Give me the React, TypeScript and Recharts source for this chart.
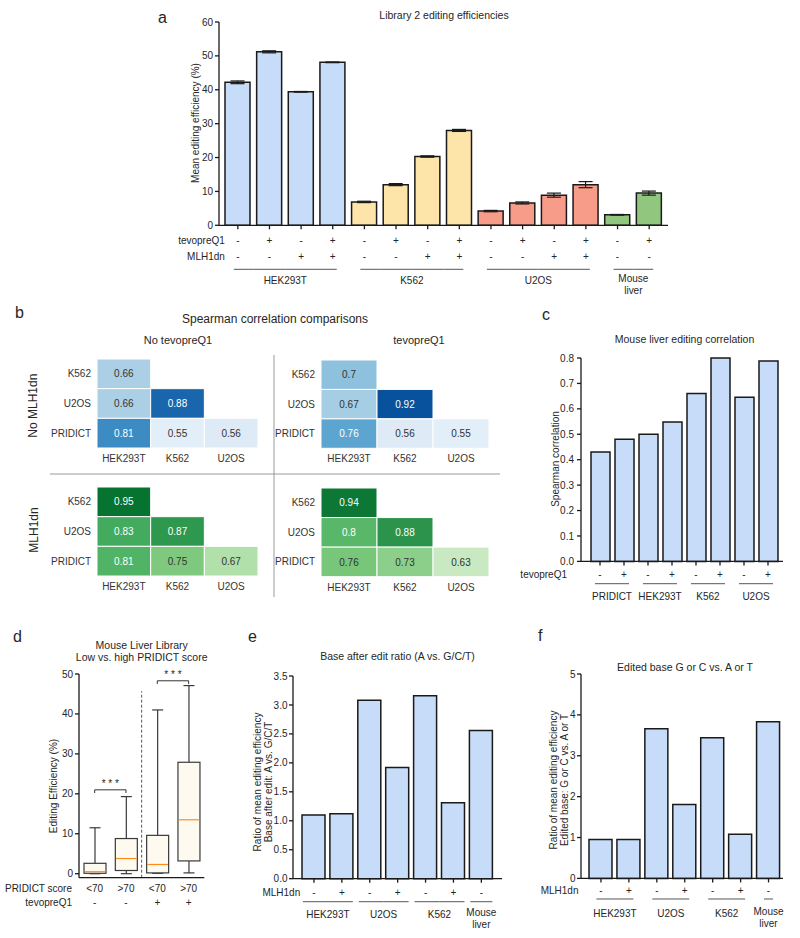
import React from 'react';
import { BarChart, Bar, XAxis, YAxis, ErrorBar, Cell, ScatterChart, Scatter, ReferenceLine } from 'recharts';

const FONT = '"Liberation Sans", Arial, Helvetica, sans-serif';
const INK = '#1a1a1a';
const TXT = '#262626';
const BAR_BLUE = '#c6dcf8';

// a: Library 2 editing efficiencies
const libCells = ['HEK293T', 'HEK293T', 'HEK293T', 'HEK293T', 'K562', 'K562', 'K562', 'K562', 'U2OS', 'U2OS', 'U2OS', 'U2OS', 'Mouse liver', 'Mouse liver'];
const libTevo = ['-', '+', '-', '+', '-', '+', '-', '+', '-', '+', '-', '+', '-', '+'];
const libMlh = ['-', '-', '+', '+', '-', '-', '+', '+', '-', '-', '+', '+', '-', '-'];
const libMean = [42.2, 51.2, 39.4, 48.1, 6.9, 12.0, 20.3, 28.0, 4.2, 6.6, 8.9, 12.0, 3.1, 9.5];
const libSd = [0.4, 0.3, 0.1, 0.1, 0.2, 0.3, 0.2, 0.3, 0.2, 0.3, 0.6, 0.9, 0.1, 0.6];
const libTicks = [0, 10, 20, 30, 40, 50, 60];
const cellColor: Record<string, string> = { HEK293T: '#c6dcf8', K562: '#fde5aa', U2OS: '#f89c8a', 'Mouse liver': '#90c67e' };

// b: Spearman correlation heatmaps (lower triangle)
const hmRows = ['K562', 'U2OS', 'PRIDICT'];
const hmCols = ['HEK293T', 'K562', 'U2OS'];
const hmRowIdx = [0, 1, 1, 2, 2, 2];
const hmColIdx = [0, 0, 1, 0, 1, 2];
const rhoNoTevoNoMlh = [0.66, 0.66, 0.88, 0.81, 0.55, 0.56];
const rhoTevoNoMlh = [0.7, 0.67, 0.92, 0.76, 0.56, 0.55];
const rhoNoTevoMlh = [0.95, 0.83, 0.87, 0.81, 0.75, 0.67];
const rhoTevoMlh = [0.94, 0.8, 0.88, 0.76, 0.73, 0.63];
const blues = ['#f7fbff', '#deebf7', '#c6dbef', '#9ecae1', '#6baed6', '#4292c6', '#2171b5', '#08519c', '#08306b'];
const greens = ['#f7fcf5', '#e5f5e0', '#c7e9c0', '#a1d99b', '#74c476', '#41ab5d', '#238b45', '#006d2c', '#00441b'];

// c: Mouse liver editing correlation
const mlGroup = ['PRIDICT', 'PRIDICT', 'HEK293T', 'HEK293T', 'K562', 'K562', 'U2OS', 'U2OS'];
const mlTevo = ['-', '+', '-', '+', '-', '+', '-', '+'];
const mlCorr = [0.43, 0.48, 0.5, 0.548, 0.66, 0.8, 0.646, 0.788];
const mlTicks = [0, 0.1, 0.2, 0.3, 0.4, 0.5, 0.6, 0.7, 0.8];

// d: box plot, low vs high PRIDICT score
const boxScore = ['<70', '>70', '<70', '>70'];
const boxTevo = ['-', '-', '+', '+'];
const boxMin = [0, 0, 0.1, 0.2];
const boxQ1 = [0.1, 0.8, 0.2, 3.2];
const boxMedian = [0.5, 3.8, 2.3, 13.5];
const boxQ3 = [2.6, 8.8, 9.6, 27.9];
const boxMax = [11.5, 19.3, 41.0, 47.1];
const boxTicks = [0, 10, 20, 30, 40, 50];

// e / f: ratio bars
const ratioGroup = ['HEK293T', 'HEK293T', 'U2OS', 'U2OS', 'K562', 'K562', 'Mouse liver'];
const ratioMlh = ['-', '+', '-', '+', '-', '+', '-'];
const baseAfterRatio = [1.1, 1.12, 3.08, 1.92, 3.16, 1.31, 2.56];
const editedBaseRatio = [0.95, 0.95, 3.66, 1.81, 3.44, 1.08, 3.83];
const eTicks = [0, 0.5, 1, 1.5, 2, 2.5, 3, 3.5];
const fTicks = [0, 1, 2, 3, 4, 5];

const lerpHex = (a: string, b: string, t: number) => {
  const pa = [1, 3, 5].map((k) => parseInt(a.slice(k, k + 2), 16));
  const pb = [1, 3, 5].map((k) => parseInt(b.slice(k, k + 2), 16));
  return 'rgb(' + pa.map((v, k) => Math.round(v + (pb[k] - v) * t)).join(',') + ')';
};
const cmap = (stops: string[], t: number) => {
  const s = Math.max(0, Math.min(1, t)) * (stops.length - 1);
  const k = Math.min(stops.length - 2, Math.floor(s));
  return lerpHex(stops[k], stops[k + 1], s - k);
};

const splitLabel = (s: string) => (s === 'Mouse liver' ? ['Mouse', 'liver'] : [s]);

type TickCfg = {
  rows: { label: string; values: string[]; dy: number }[];
  rowLabelDx: number;
  groups?: string[];
  band?: number;
  ext?: number;
  lineDy?: number;
  labelDy?: number;
};

const groupTick = (cfg: TickCfg) => (props: any) => {
  const { x, y, payload } = props;
  const i = Number(payload.value);
  const out: React.ReactNode[] = [];
  cfg.rows.forEach((r, k) => {
    out.push(
      <text key={'v' + k} x={x} y={y + r.dy} textAnchor="middle" fontSize={10} fill={TXT}>
        {r.values[i]}
      </text>
    );
    if (i === 0) {
      out.push(
        <text key={'l' + k} x={x + cfg.rowLabelDx} y={y + r.dy} textAnchor="end" fontSize={10} fill={TXT}>
          {r.label}
        </text>
      );
    }
  });
  const g = cfg.groups;
  if (g) {
    const band = cfg.band || 0;
    const ext = cfg.ext || 0;
    const first = i === 0 || g[i - 1] !== g[i];
    const last = i === g.length - 1 || g[i + 1] !== g[i];
    const x1 = first ? x - ext : x - band / 2;
    const x2 = last ? x + ext : x + band / 2;
    out.push(<line key="gl" x1={x1} x2={x2} y1={y + (cfg.lineDy || 0)} y2={y + (cfg.lineDy || 0)} stroke="#555" strokeWidth={1} />);
    if (first) {
      let n = 0;
      while (i + n < g.length && g[i + n] === g[i]) n++;
      const cx = x + ((n - 1) * band) / 2;
      const lines = splitLabel(g[i]);
      lines.forEach((t, k) => {
        const dy = lines.length > 1 ? (cfg.labelDy || 0) - 1.5 + k * 12 : cfg.labelDy || 0;
        out.push(
          <text key={'g' + k} x={cx} y={y + dy} textAnchor="middle" fontSize={10} fill={TXT}>
            {t}
          </text>
        );
      });
    }
  }
  return <g fontFamily={FONT}>{out}</g>;
};

const yTick = { fontSize: 10, fill: TXT, fontFamily: FONT };
const axisStroke = { stroke: INK, strokeWidth: 1.3 };

function frame(x0: number, x1: number, y0: number, y1: number, yW: number, xH: number, right = 8) {
  const pad = 8;
  return {
    style: { position: 'absolute' as const, left: x0 - yW, top: y0 - pad },
    width: yW + (x1 - x0) + right,
    height: pad + (y1 - y0) + xH,
    margin: { top: pad, right, bottom: 0, left: 0 },
  };
}

function PanelA() {
  const yW = 50;
  const f = frame(219, 668, 21.7, 225, yW, 76);
  const data = libMean.map((v, i) => ({ idx: i, mean: v, sd: libSd[i], cell: libCells[i] }));
  const band = (449 - 6) / 14;
  const tick = groupTick({
    rows: [
      { label: 'tevopreQ1', values: libTevo, dy: 12.3 },
      { label: 'MLH1dn', values: libMlh, dy: 29 },
    ],
    rowLabelDx: -13,
    groups: libCells,
    band,
    ext: 4,
    lineDy: 38,
    labelDy: 52.3,
  });
  return (
    <div style={f.style}>
      <BarChart width={f.width} height={f.height} data={data} margin={f.margin}>
        <XAxis dataKey="idx" type="category" height={76} padding={{ left: 3, right: 3 }} interval={0} tickSize={4} tickMargin={2} axisLine={axisStroke} tickLine={axisStroke} tick={tick} />
        <YAxis width={yW} domain={[0, 60]} ticks={libTicks} tickSize={4} tickMargin={2} axisLine={axisStroke} tickLine={axisStroke} tick={yTick} />
        <Bar dataKey="mean" barSize={25} stroke={INK} strokeWidth={1.5} isAnimationActive={false}>
          {data.map((d) => (
            <Cell key={d.idx} fill={cellColor[d.cell]} />
          ))}
          <ErrorBar dataKey="sd" width={7} stroke={INK} strokeWidth={1.2} />
        </Bar>
      </BarChart>
    </div>
  );
}

const HeatCell = (p: any) => {
  const { cx, cy, payload, cw, ch, stops, whiteAt, span } = p;
  const v = payload.v;
  const t = (v - 0.5) / span;
  return (
    <g>
      <rect x={cx - cw / 2} y={cy - ch / 2} width={cw} height={ch} fill={cmap(stops, t)} stroke="#ffffff" strokeWidth={1} />
      <text x={cx} y={cy + 3.6} textAnchor="middle" fontSize={10} fontFamily={FONT} fill={v >= whiteAt ? '#ffffff' : '#333333'}>
        {String(v)}
      </text>
    </g>
  );
};

function Heatmap({ x0, y0, w, h, values, stops, whiteAt, span }: { x0: number; y0: number; w: number; h: number; values: number[]; stops: string[]; whiteAt: number; span: number }) {
  const yW = 60;
  const pad = 2;
  const xH = 24;
  const data = values.map((v, k) => ({ c: hmColIdx[k], r: hmRowIdx[k], v }));
  const cw = w / 3;
  const ch = h / 3;
  const lab = { fontSize: 10, fill: '#333', fontFamily: FONT };
  return (
    <div style={{ position: 'absolute', left: x0 - yW, top: y0 - pad }}>
      <ScatterChart width={yW + w + pad} height={pad + h + xH} margin={{ top: pad, right: pad, bottom: 0, left: 0 }}>
        <XAxis type="number" dataKey="c" domain={[-0.5, 2.5]} ticks={[0, 1, 2]} interval={0} tickFormatter={(v: number) => hmCols[v]} axisLine={false} tickLine={false} tickSize={0} tickMargin={7} height={xH} tick={lab} />
        <YAxis type="number" dataKey="r" domain={[-0.5, 2.5]} ticks={[0, 1, 2]} interval={0} reversed tickFormatter={(v: number) => hmRows[v]} axisLine={false} tickLine={false} tickSize={0} tickMargin={6} width={yW} tick={lab} />
        <Scatter data={data} isAnimationActive={false} shape={(p: any) => <HeatCell {...p} cw={cw} ch={ch} stops={stops} whiteAt={whiteAt} span={span} />} />
      </ScatterChart>
    </div>
  );
}

function PanelC() {
  const yW = 72;
  const f = frame(580.7, 782.7, 358.3, 561.7, yW, 46);
  const data = mlCorr.map((v, i) => ({ idx: i, rho: v }));
  const tick = groupTick({
    rows: [{ label: 'tevopreQ1', values: mlTevo, dy: 10.6 }],
    rowLabelDx: -33,
    groups: mlGroup,
    band: 24,
    ext: 5,
    lineDy: 16.3,
    labelDy: 32.3,
  });
  return (
    <div style={f.style}>
      <BarChart width={f.width} height={f.height} data={data} margin={f.margin}>
        <XAxis dataKey="idx" type="category" height={46} padding={{ left: 7, right: 3 }} interval={0} tickSize={4} tickMargin={2} axisLine={axisStroke} tickLine={axisStroke} tick={tick} />
        <YAxis width={yW} domain={[0, 0.8]} ticks={mlTicks} tickFormatter={(v: number) => v.toFixed(1)} tickSize={4} tickMargin={3} axisLine={axisStroke} tickLine={axisStroke} tick={yTick} />
        <Bar dataKey="rho" barSize={19} fill={BAR_BLUE} stroke={INK} strokeWidth={1.5} isAnimationActive={false} />
      </BarChart>
    </div>
  );
}

const BoxShape = (p: any) => {
  const { x, y, width, height, payload } = p;
  const { min, q1, median, q3, max } = payload;
  const py = (v: number) => y + (height * (max - v)) / (max - min);
  const cx = x + width / 2;
  const cap = width / 4;
  return (
    <g>
      <line x1={cx} x2={cx} y1={py(max)} y2={py(q3)} stroke="#3a3a3a" strokeWidth={1.2} />
      <line x1={cx} x2={cx} y1={py(q1)} y2={py(min)} stroke="#3a3a3a" strokeWidth={1.2} />
      <line x1={cx - cap} x2={cx + cap} y1={py(max)} y2={py(max)} stroke="#3a3a3a" strokeWidth={1.2} />
      <line x1={cx - cap} x2={cx + cap} y1={py(min)} y2={py(min)} stroke="#3a3a3a" strokeWidth={1.2} />
      <rect x={x} y={py(q3)} width={width} height={py(q1) - py(q3)} fill="#fffaf0" stroke="#3a3a3a" strokeWidth={1.2} />
      <line x1={x + 0.6} x2={x + width - 0.6} y1={py(median)} y2={py(median)} stroke="#ff8c1a" strokeWidth={1.2} />
    </g>
  );
};

function PanelD() {
  const yW = 76;
  const f = frame(78.7, 204, 674.3, 878, yW, 40, 6);
  const data = boxMin.map((_, i) => ({ idx: i, min: boxMin[i], q1: boxQ1[i], median: boxMedian[i], q3: boxQ3[i], max: boxMax[i] }));
  const tick = groupTick({
    rows: [
      { label: 'PRIDICT score', values: boxScore, dy: 8.3 },
      { label: 'tevopreQ1', values: boxTevo, dy: 22.3 },
    ],
    rowLabelDx: -22.7,
  });
  const br = { stroke: '#333', strokeWidth: 1 };
  const star = { value: '* * *', position: 'top' as const, fill: TXT, fontSize: 10, offset: 3 };
  return (
    <div style={f.style}>
      <BarChart width={f.width} height={f.height} data={data} margin={f.margin}>
        <XAxis dataKey="idx" type="number" domain={[-0.5, 3.5]} ticks={[0, 1, 2, 3]} interval={0} height={40} tickSize={4} tickMargin={2} axisLine={axisStroke} tickLine={false} tick={tick} />
        <YAxis width={yW} domain={[-1, 50]} ticks={boxTicks} tickSize={4} tickMargin={2} axisLine={axisStroke} tickLine={axisStroke} tick={yTick} />
        <Bar dataKey={(d: any) => [d.min, d.max]} barSize={22} isAnimationActive={false} shape={BoxShape} />
        <ReferenceLine segment={[{ x: 1.5, y: -1 }, { x: 1.5, y: 45.7 }]} stroke="#555" strokeWidth={1} strokeDasharray="3 2" />
        <ReferenceLine segment={[{ x: 0, y: 21 }, { x: 1, y: 21 }]} {...br} label={star} />
        <ReferenceLine segment={[{ x: 0, y: 21 }, { x: 0, y: 20.2 }]} {...br} />
        <ReferenceLine segment={[{ x: 1, y: 21 }, { x: 1, y: 20.2 }]} {...br} />
        <ReferenceLine segment={[{ x: 2, y: 48.3 }, { x: 3, y: 48.3 }]} {...br} label={star} />
        <ReferenceLine segment={[{ x: 2, y: 48.3 }, { x: 2, y: 47.5 }]} {...br} />
        <ReferenceLine segment={[{ x: 3, y: 48.3 }, { x: 3, y: 47.5 }]} {...br} />
      </BarChart>
    </div>
  );
}

function RatioPanel({ x0, x1, y0, y1, values, ticks, domainMax, padL, padR, dec, mlhDy, lineDy, labelDy, ext, rowLabelDx }: any) {
  const yW = 45;
  const f = frame(x0, x1, y0, y1, yW, 60);
  const data = values.map((v: number, i: number) => ({ idx: i, ratio: v }));
  const band = (x1 - x0 - padL - padR) / values.length;
  const tick = groupTick({
    rows: [{ label: 'MLH1dn', values: ratioMlh, dy: mlhDy }],
    rowLabelDx,
    groups: ratioGroup,
    band,
    ext,
    lineDy,
    labelDy,
  });
  return (
    <div style={f.style}>
      <BarChart width={f.width} height={f.height} data={data} margin={f.margin}>
        <XAxis dataKey="idx" type="category" height={60} padding={{ left: padL, right: padR }} interval={0} tickSize={4} tickMargin={2} axisLine={axisStroke} tickLine={axisStroke} tick={tick} />
        <YAxis width={yW} domain={[0, domainMax]} ticks={ticks} tickFormatter={(v: number) => v.toFixed(dec)} tickSize={4} tickMargin={1.5} axisLine={axisStroke} tickLine={axisStroke} tick={yTick} />
        <Bar dataKey="ratio" barSize={23} fill={BAR_BLUE} stroke={INK} strokeWidth={1.5} isAnimationActive={false} />
      </BarChart>
    </div>
  );
}

function Overlay() {
  const t = (x: number, y: number, s: string, size = 10.5, anchor: 'start' | 'middle' | 'end' = 'middle') => (
    <text x={x} y={y} fontSize={size} textAnchor={anchor} fill={TXT}>
      {s}
    </text>
  );
  const rot = (x: number, y: number, s: string, size = 10) => (
    <text x={x} y={y} fontSize={size} textAnchor="middle" dominantBaseline="central" transform={`rotate(-90 ${x} ${y})`} fill={TXT}>
      {s}
    </text>
  );
  return (
    <svg width={800} height={938} style={{ position: 'absolute', left: 0, top: 0, pointerEvents: 'none' }} fontFamily={FONT}>
      {t(158, 23, 'a', 16, 'start')}
      {t(444, 18.7, 'Library 2 editing efficiencies')}
      {rot(195, 123, 'Mean editing efficiency (%)')}

      {t(15, 318, 'b', 16, 'start')}
      {t(275, 322.5, 'Spearman correlation comparisons', 12)}
      {t(178, 344, 'No tevopreQ1', 11)}
      {t(419, 344, 'tevopreQ1', 11)}
      {rot(33.5, 405.7, 'No MLH1dn', 12)}
      {rot(33.5, 530, 'MLH1dn', 12)}
      <line x1={274} x2={274} y1={355} y2={597} stroke="#9a9a9a" strokeWidth={1} />
      <line x1={50} x2={500} y1={474} y2={474} stroke="#9a9a9a" strokeWidth={1} />

      {t(542, 320, 'c', 16, 'start')}
      {t(684.5, 343.3, 'Mouse liver editing correlation')}
      {rot(555, 459, 'Spearman correlation')}

      {t(13, 642, 'd', 16, 'start')}
      {t(141.7, 649, 'Mouse Liver Library')}
      {t(141.7, 660.5, 'Low vs. high PRIDICT score')}
      {rot(53.7, 786, 'Editing Efficiency (%)')}

      {t(248, 642, 'e', 16, 'start')}
      {t(397.5, 660, 'Base after edit ratio (A vs. G/C/T)')}
      {rot(257.5, 782, 'Ratio of mean editing efficiency')}
      {rot(268, 782, 'Base after edit: A vs. G/C/T')}

      {t(538, 641, 'f', 16, 'start')}
      {t(685, 671.3, 'Edited base G or C vs. A or T')}
      {rot(553, 780, 'Ratio of mean editing efficiency')}
      {rot(564, 780, 'Edited base: G or C vs. A or T')}
    </svg>
  );
}

export default function App() {
  return (
    <div style={{ position: 'absolute', left: 0, top: 0, width: 800, height: 938, background: '#ffffff', fontFamily: FONT, overflow: 'hidden' }}>
      <PanelA />
      <Heatmap x0={96.7} y0={359.3} w={161} h={89} values={rhoNoTevoNoMlh} stops={blues} whiteAt={0.75} span={0.48} />
      <Heatmap x0={321} y0={360} w={168} h={88.3} values={rhoTevoNoMlh} stops={blues} whiteAt={0.75} span={0.48} />
      <Heatmap x0={96.7} y0={486.7} w={161} h={89} values={rhoNoTevoMlh} stops={greens} whiteAt={0.78} span={0.53} />
      <Heatmap x0={321} y0={488} w={168} h={88.7} values={rhoTevoMlh} stops={greens} whiteAt={0.78} span={0.53} />
      <PanelC />
      <PanelD />
      <RatioPanel x0={292.7} x1={501.7} y0={676} y1={878.7} values={baseAfterRatio} ticks={eTicks} domainMax={3.5} padL={7} padR={6.7} dec={1} mlhDy={11.6} lineDy={17} labelDy={33.3} ext={11} rowLabelDx={-13.7} />
      <RatioPanel x0={580.7} x1={782.7} y0={674.3} y1={878.7} values={editedBaseRatio} ticks={fTicks} domainMax={5} padL={6} padR={0.5} dec={0} mlhDy={9.3} lineDy={14.6} labelDy={32.3} ext={4.5} rowLabelDx={-22.5} />
      <Overlay />
    </div>
  );
}
